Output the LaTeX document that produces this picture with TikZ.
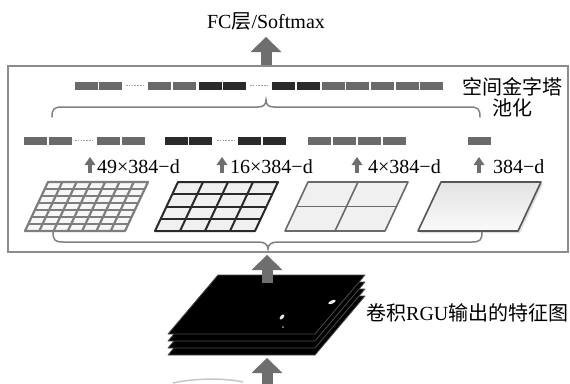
\documentclass[tikz,border=0pt]{standalone}
\usepackage{fontspec}
\setmainfont{Liberation Serif}
\newfontfamily\cjk{Noto Sans CJK SC}
\usetikzlibrary{arrows.meta}
\definecolor{boxgray}{HTML}{8C8C8C}
\definecolor{arrowgray}{HTML}{6E6E6E}
\definecolor{barmid}{HTML}{6A6A6A}
\definecolor{bardark}{HTML}{2A2A2A}
\definecolor{bracegray}{HTML}{808080}
\definecolor{gridA}{HTML}{7E7E7E}
\definecolor{gridB}{HTML}{2A2A2A}
\definecolor{gridC}{HTML}{6A6A6A}
\definecolor{gridD}{HTML}{555555}
\tikzset{
  bigarr/.style={draw=arrowgray, line width=11pt, -{Triangle[length=15pt,width=31pt,line width=0pt]}},
  smallarr/.style={draw=arrowgray, line width=4pt, -{Triangle[length=8pt,width=11pt,line width=0pt]}},
  bracestyle/.style={draw=bracegray, line width=1.5pt, line cap=round},
  dotsstyle/.style={draw=gray!75, line width=1.3pt, dash pattern=on 1.6pt off 1.2pt},
  plate/.style={fill=black, draw=gray!60!black, line width=0.8pt, line join=round},
  lbl/.style={anchor=base west, inner sep=0pt}
}
\begin{document}
\begin{tikzpicture}[x=1pt,y=-1pt,font=\fontsize{20}{24}\selectfont]
\useasboundingbox (0,0) rectangle (570,383);
\fill[white] (0,0) rectangle (570,383);

% main box
\node[draw=boxgray, line width=1.5pt, fill=white, minimum width=560pt, minimum height=186pt, inner sep=0pt, anchor=north west] (box) at (7,65) {};

% title and top arrow
\node[anchor=base, inner sep=0pt] (fc) at (266,28) {FC{\cjk 层}/Softmax};
\coordinate (t1) at (266,37);
\draw[bigarr] (box.north -| t1) -- (t1);

% top strip of bars
\foreach \x/\c in {75/barmid,99/barmid,148/barmid,173/barmid,199/bardark,223/bardark,272/bardark,297/bardark,322/barmid,346/barmid,371/barmid,396/barmid,420/barmid}
  \fill[\c] (\x,82) rectangle ++(22.8,7.5);
\draw[dotsstyle] (126,85.8) -- (144,85.8);
\draw[dotsstyle] (250,85.8) -- (268,85.8);

% SPP label
\node (spp1) at (512,87) {\cjk 空间金字塔};
\node (spp2) at (512,108) {\cjk 池化};

% top brace
\draw[bracestyle] (52,117) .. controls (52,109) and (54,107) .. (62,107) -- (258,107)
  .. controls (263,107) and (266,105) .. (266,100)
  .. controls (266,105) and (269,107) .. (274,107) -- (470,107)
  .. controls (478,107) and (480,109) .. (480,117);

% second row of bars
\foreach \x/\c in {24/barmid,49/barmid,97/barmid,122/barmid,165/bardark,189/bardark,238/bardark,263/bardark,308/barmid,333/barmid,358/barmid,383/barmid,468/barmid}
  \fill[\c] (\x,137) rectangle ++(22.8,7.5);
\draw[dotsstyle] (75,140.8) -- (93,140.8);
\draw[dotsstyle] (217,140.8) -- (235,140.8);

% labels with small arrows
\node[lbl] (l1) at (97,173) {49×384−d};
\node[lbl] (l2) at (230,173) {16×384−d};
\node[lbl] (l3) at (368,173) {4×384−d};
\node[lbl] (l4) at (493,173) {384−d};
\foreach \ax/\nm in {90/a1,222/a2,357/a3,479/a4}{
  \coordinate (\nm b) at (\ax,173);
  \coordinate (\nm t) at (\ax,157);
  \draw[smallarr] (\nm b) -- (\nm t);
}

% grid 1 (7x7)
\filldraw[fill=gray!6, draw=gridA, line width=2.2pt, line join=round] (25,231) -- (125,231) -- (148,182) -- (48,182) -- cycle;
\foreach \k in {1,...,6}{
  \draw[gridA, line width=2.2pt] ({25+23*\k/7},{231-49*\k/7}) -- ++(100,0);
  \draw[gridA, line width=2.2pt] ({25+100*\k/7},231) -- ++(23,-49);
}
% grid 2 (4x4)
\filldraw[fill=gray!12, draw=gridB, line width=2pt, line join=round] (155,231) -- (255,231) -- (278,182) -- (178,182) -- cycle;
\foreach \k in {1,2,3}{
  \draw[gridB, line width=2pt] ({155+23*\k/4},{231-49*\k/4}) -- ++(100,0);
  \draw[gridB, line width=2pt] ({155+100*\k/4},231) -- ++(23,-49);
}
% grid 3 (2x2)
\filldraw[fill=gray!12, draw=gridC, line width=1.6pt, line join=round] (285,231) -- (385,231) -- (408,182) -- (308,182) -- cycle;
\draw[gridC, line width=1.6pt] ({285+23/2},{231-49/2}) -- ++(100,0);
\draw[gridC, line width=1.6pt] (335,231) -- ++(23,-49);
% grid 4 (1x1)
\fill[gray!25] (420,233) -- (520,233) -- (543,184) -- (443,184) -- cycle;
\draw[top color=gray!22, bottom color=gray!4, draw=gridD, line width=1.6pt, line join=round] (418,231) -- (518,231) -- (541,182) -- (441,182) -- cycle;

% bottom brace
\draw[bracestyle] (53,232) .. controls (53,240) and (55,242) .. (63,242) -- (258,242)
  .. controls (264,242) and (268,244) .. (268,249)
  .. controls (268,244) and (272,242) .. (278,242) -- (472,242)
  .. controls (480,242) and (482,240) .. (482,232);

% feature map stack
\foreach \dy in {21,14,7,0}
  \filldraw[plate] (218,{275+\dy}) -- (365,{275+\dy}) -- (315,{334+\dy}) -- (168,{334+\dy}) -- cycle;
\fill[white!90!gray, rotate around={25:(332,302)}] (332,302) ellipse (4pt and 1.6pt);
\fill[white!80!gray, rotate around={50:(282,317)}] (282,317) ellipse (3.2pt and 1.6pt);
\fill[gray!70] (283,327) circle (1pt);

\node[anchor=west, inner sep=0pt] (fm) at (366,313) {{\cjk 卷积}RGU{\cjk 输出的特征图}};

% arrow from stack to box
\coordinate (s0) at (267,283);
\coordinate (s1) at (267,255);
\draw[bigarr] (s0) -- (s1);

% bottom arrow
\coordinate (b0) at (267,384);
\coordinate (b1) at (267,358);
\draw[bigarr] (b0) -- (b1);

% partial shape at the bottom edge
\draw[gray!45, line width=1.5pt] (173,383) .. controls (195,378) and (225,378) .. (243,382);
\end{tikzpicture}
\end{document}
